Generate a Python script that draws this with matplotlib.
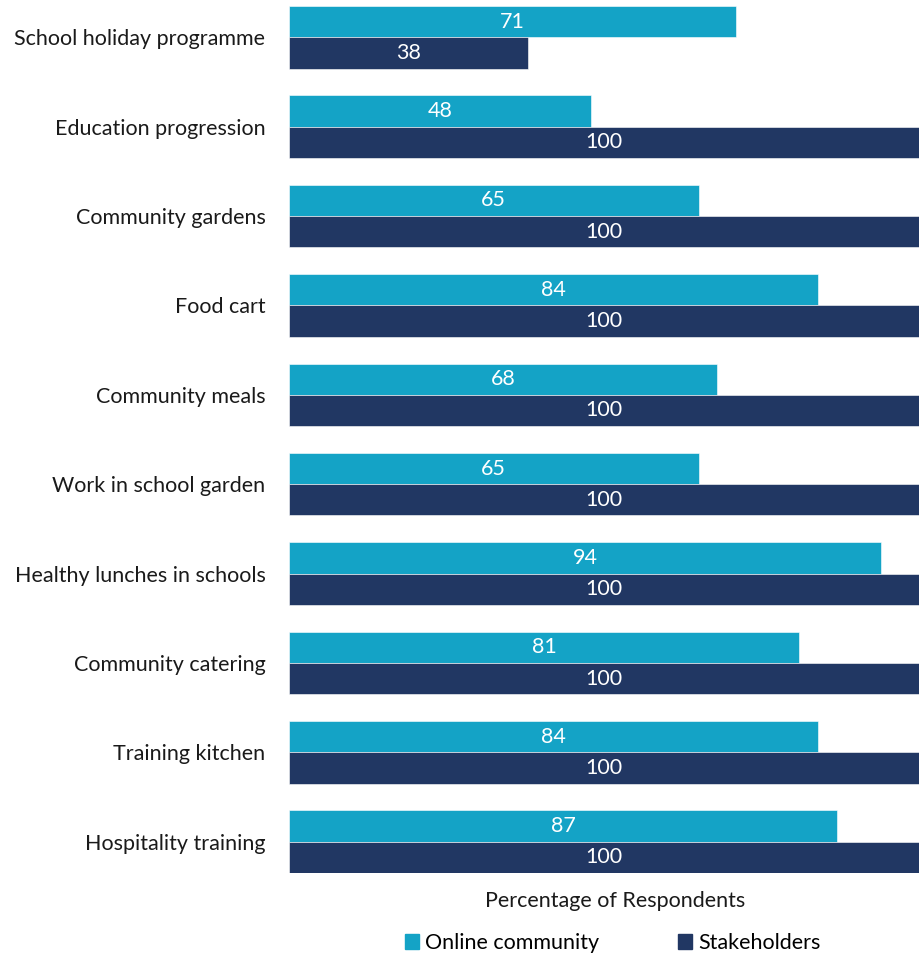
import numpy as np
import matplotlib.pyplot as plt
from matplotlib.patches import Patch

plt.rcParams['font.family'] = ['Lato', 'DejaVu Sans']

# survey results per programme
categories = ['School holiday programme', 'Education progression', 'Community gardens',
              'Food cart', 'Community meals', 'Work in school garden',
              'Healthy lunches in schools', 'Community catering', 'Training kitchen',
              'Hospitality training']
online = [71, 48, 65, 84, 68, 65, 94, 81, 84, 87]
stakeholders = [38, 100, 100, 100, 100, 100, 100, 100, 100, 100]

c_online = '#14a3c6'
c_stake = '#213763'
fs = 15.5

fig = plt.figure(figsize=(9.19, 9.56), dpi=100)
ax = fig.add_axes([289/919, 1 - 873/956, 1 - 289/919, (873 - 6)/956])

y = np.arange(len(categories))
h = 0.35
b1 = ax.barh(y - h/2, online, height=h, color=c_online, edgecolor='white', linewidth=0.4)
b2 = ax.barh(y + h/2, stakeholders, height=h, color=c_stake, edgecolor='white', linewidth=0.4)

for bars, vals in [(b1, online), (b2, stakeholders)]:
    for bar, v in zip(bars, vals):
        ax.text(v / 2, bar.get_y() + bar.get_height()/2, str(v), color='white',
                ha='center', va='center', fontsize=fs)

ax.set_xlim(0, 100)
ax.set_ylim(len(categories) - 1 + 0.35, -0.35)
ax.set_yticks(y)
ax.set_yticklabels(categories, fontsize=fs, color='#1a1a1a')
ax.set_xticks([])
ax.tick_params(axis='y', length=0, pad=17)
for s in ax.spines.values():
    s.set_visible(False)

fig.text(615/919, 1 - 901/956, 'Percentage of Respondents', ha='center', va='center',
         fontsize=fs, color='#1a1a1a')

handles = [Patch(color=c_online, label='Online community'),
           Patch(color=c_stake, label='Stakeholders')]
fig.legend(handles=handles, loc='center', bbox_to_anchor=(613/919, 1 - 943/956), ncol=2,
           frameon=False, fontsize=fs, handlelength=0.65, handleheight=0.65,
           handletextpad=0.3, columnspacing=3.65)

fig.savefig('out.png', dpi=100)
